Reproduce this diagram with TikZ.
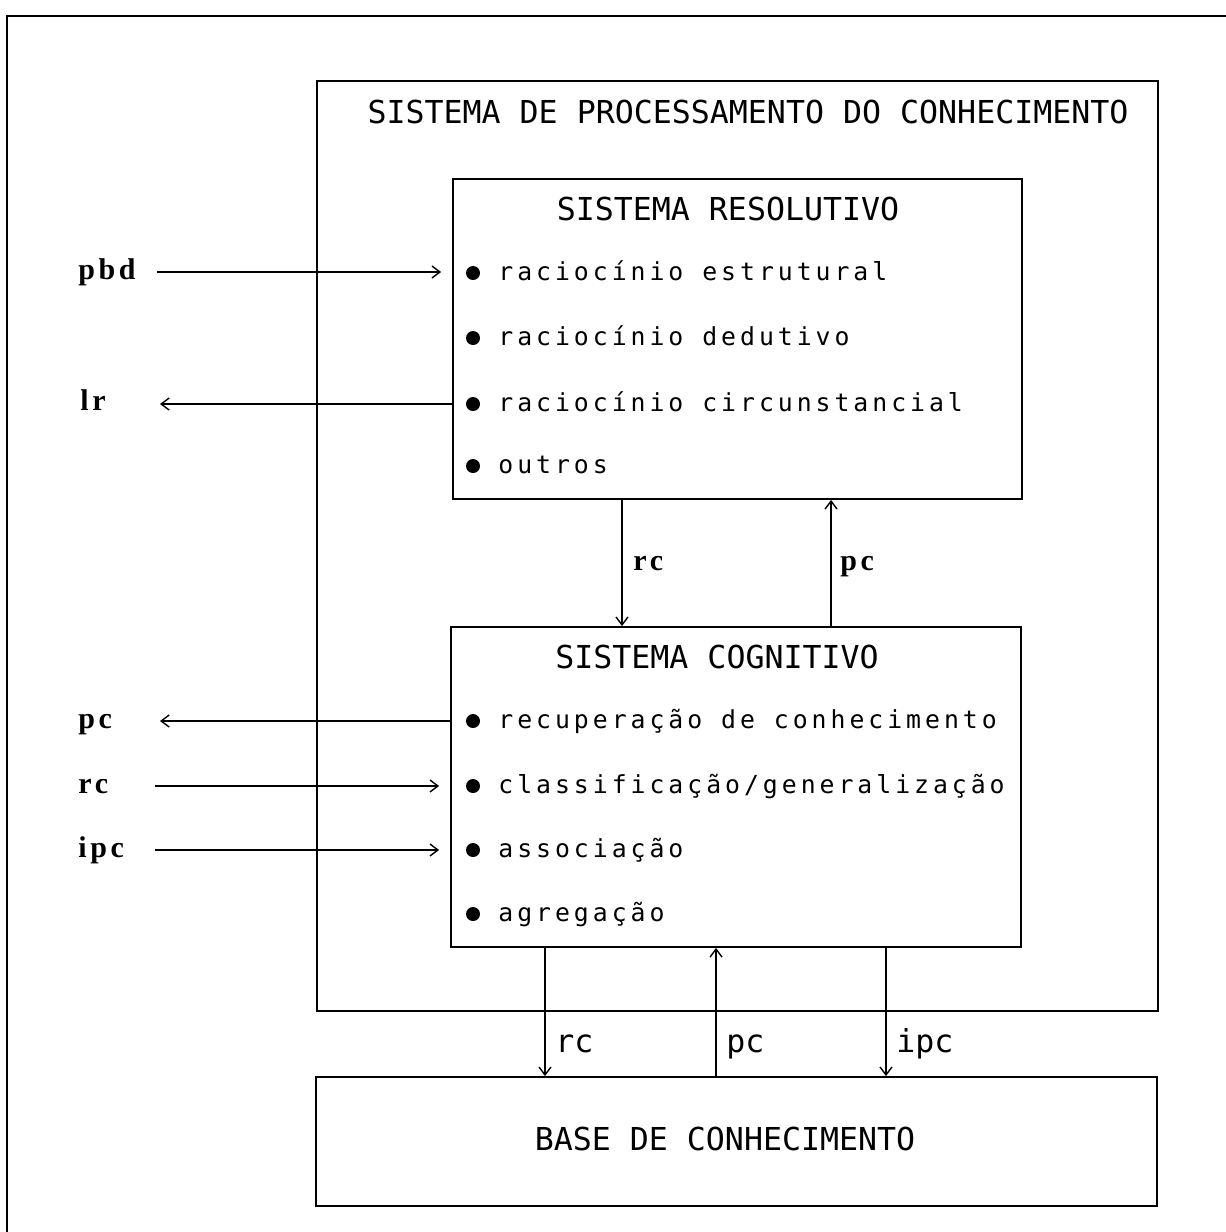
\documentclass[tikz,border=0pt]{standalone}
\usepackage{fontspec}
\usetikzlibrary{arrows.meta}
\newfontfamily\titlefont{DejaVu Sans Mono}
\newfontfamily\itemfont[LetterSpace=16]{DejaVu Sans Mono}
\newfontfamily\labfont[LetterSpace=12]{Liberation Serif}
\begin{document}
\begin{tikzpicture}[x=0.5pt,y=-0.5pt,
  box/.style={draw, line width=0.9pt, rectangle, inner sep=0pt},
  arr/.style={-{Straight Barb[length=4pt,width=6pt]}, line width=0.7pt},
  ttl/.style={font=\titlefont\fontsize{15.8}{18}\selectfont, inner sep=0pt},
  btl/.style={font=\titlefont\fontsize{15.8}{18}\selectfont, inner sep=0pt, anchor=base west},
  itm/.style={font=\itemfont\fontsize{12.4}{15}\selectfont, anchor=base west, inner sep=0pt},
  lab/.style={font=\labfont\bfseries\fontsize{15}{18}\selectfont, anchor=base west, inner sep=0pt},
  dot/.style={circle, fill, inner sep=0pt, minimum size=7pt}]
\useasboundingbox (0,0) rectangle (1226,1232);
\fill[white] (0,0) rectangle (1226,1232);
\draw[line width=1.1pt] (1226,16) -- (7,16) -- (7,1232);

% boxes
\node[box, minimum width=420.5pt, minimum height=465pt] (spc) at (737.5,546) {};
\node[box, minimum width=284.5pt, minimum height=160pt] (sr) at (737.5,339) {};
\node[box, minimum width=285pt, minimum height=160pt] (sc) at (736,787) {};
\node[box, minimum width=420.5pt, minimum height=64.5pt] (base) at (736.5,1141.5) {};

% titles
\node[ttl] (spct) at (748,112) {SISTEMA DE PROCESSAMENTO DO CONHECIMENTO};
\node[ttl] (srt) at (728,209) {SISTEMA RESOLUTIVO};
\node[ttl] (sct) at (717,657) {SISTEMA COGNITIVO};
\node[ttl] (bt) at (725,1139) {BASE DE CONHECIMENTO};

% resolutivo items
\node[dot] (d1) at (473,273) {};
\node[itm] (i1) at (498,280) {raciocínio estrutural};
\node[dot] (d2) at (473,338) {};
\node[itm] (i2) at (498,345) {raciocínio dedutivo};
\node[dot] (d3) at (473,404) {};
\node[itm] (i3) at (498,411) {raciocínio circunstancial};
\node[dot] (d4) at (473,466) {};
\node[itm] (i4) at (498,473) {outros};

% cognitivo items
\node[dot] (d5) at (473,721) {};
\node[itm] (i5) at (498,728) {recuperação de conhecimento};
\node[dot] (d6) at (473,786) {};
\node[itm] (i6) at (498,793) {classificação/generalização};
\node[dot] (d7) at (473,850) {};
\node[itm] (i7) at (498,857) {associação};
\node[dot] (d8) at (473,914) {};
\node[itm] (i8) at (498,921) {agregação};

% left labels
\node[lab] (lpbd) at (78,279) {pbd};
\node[lab] (llr) at (80,410) {lr};
\node[lab] (lpc) at (78,728) {pc};
\node[lab] (lrc) at (78,793) {rc};
\node[lab] (lipc) at (78,857) {ipc};

\coordinate (p1) at (157,272);
\coordinate (p2) at (160,404);
\coordinate (p3) at (160,721);
\coordinate (p4) at (155,786);
\coordinate (p5) at (155,850);
\draw[arr, shorten >=5.5pt] (p1) -- (sr.west |- p1);
\draw[arr] (sr.west |- p2) -- (p2);
\draw[arr] (sc.west |- p3) -- (p3);
\draw[arr, shorten >=5.5pt] (p4) -- (sc.west |- p4);
\draw[arr, shorten >=5.5pt] (p5) -- (sc.west |- p5);

% between resolutivo and cognitivo
\coordinate (v1) at (622,563);
\coordinate (v2) at (831,563);
\draw[arr] (sr.south -| v1) -- (sc.north -| v1);
\draw[arr] (sc.north -| v2) -- (sr.south -| v2);
\node[lab] (mrc) at (633,570) {rc};
\node[lab] (mpc) at (840,570) {pc};

% between cognitivo and base
\coordinate (w1) at (545,1043);
\coordinate (w2) at (716,1043);
\coordinate (w3) at (886,1043);
\draw[arr] (sc.south -| w1) -- (base.north -| w1);
\draw[arr] (base.north -| w2) -- (sc.south -| w2);
\draw[arr] (sc.south -| w3) -- (base.north -| w3);
\node[btl] (brc) at (555,1052) {rc};
\node[btl] (bpc) at (726,1052) {pc};
\node[btl] (bipc) at (896,1052) {ipc};
\end{tikzpicture}
\end{document}
